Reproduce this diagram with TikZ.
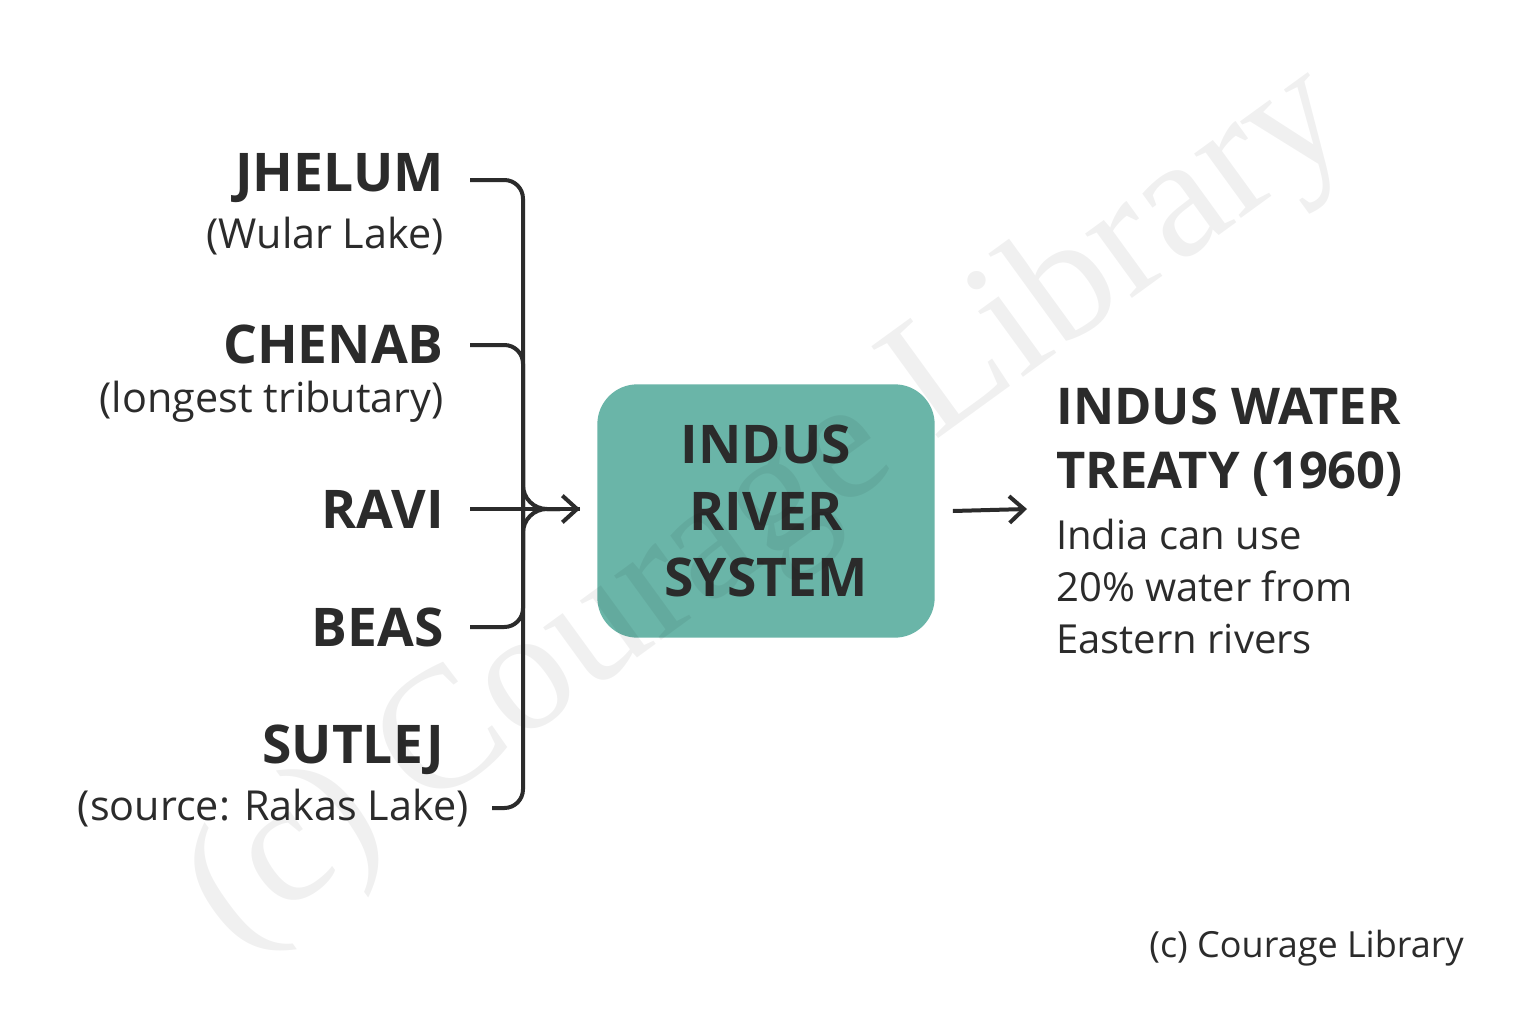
\documentclass[tikz,border=0pt]{standalone}
\usepackage{fontspec}
\setmainfont{Open Sans}
\newfontfamily\markfont{Liberation Serif}
\usetikzlibrary{arrows.meta}
\definecolor{ink}{HTML}{2B2B2B}
\definecolor{teal}{HTML}{6AB5A8}
\tikzset{
  river/.style={anchor=east, inner sep=0.75pt, font=\fontsize{40}{44}\selectfont\bfseries, text=ink},
  source/.style={anchor=east, inner sep=0.75pt, font=\fontsize{31}{36}\selectfont, text=ink},
  link/.style={draw=ink, line width=3pt, rounded corners=14pt},
  tip/.style={-{Straight Barb[length=11pt,width=20pt,line width=3pt]}}
}
\begin{document}
\begin{tikzpicture}[x=0.75pt,y=0.75pt,yscale=-1,xscale=1]
\useasboundingbox (0,0) rectangle (1536,1024);
\fill[white] (0,0) rectangle (1536,1024);

% rivers
\node[river] (jhelum) at (445,178) {JHELUM};
\node[source] (wular) at (445,236) {(Wular Lake)};
\node[river] (chenab) at (445,344) {CHENAB};
\node[source] (chenabnote) at (445,402) {(longest tributary)};
\node[river] (ravi) at (445,509) {RAVI};
\node[river] (beas) at (445,627) {BEAS};
\node[river] (sutlej) at (445,750) {SUTLEJ};
\node[source] (rakas) at (470,808) {(source: Rakas Lake)};

% system box
\node[fill=teal, rounded corners=30pt, minimum width=253pt, minimum height=190pt, align=center,
  font=\fontsize{40}{50}\selectfont\bfseries, text=ink] (indus) at (766,511) {INDUS\\RIVER\\SYSTEM};

% treaty
\node[anchor=north west, inner sep=0.75pt, align=left, font=\fontsize{38}{48}\selectfont\bfseries, text=ink] (treaty) at (1055,387) {INDUS WATER\\TREATY (1960)};
\node[anchor=north west, inner sep=0.75pt, align=left, font=\fontsize{30}{39}\selectfont, text=ink] (treatynote) at (1055,518) {India can use\\20\% water from\\Eastern rivers};

\node[anchor=east, inner sep=0.75pt, font=\fontsize{27}{30}\selectfont, text=ink] (credit) at (1465,948) {(c) Courage Library};

% watermark
\node[rotate=36, text=black, opacity=0.06, font=\markfont\fontsize{130}{130}\selectfont] (mark) at (770,510) {(c) Courage Library};

% bracket
\coordinate (join) at (523,509);
\draw[link] (470,180) -- (523,180) -- (join);
\draw[link] (470,345) -- (523,345) -- (join);
\draw[link] (470,627) -- (523,627) -- (join);
\draw[link] (492,808) -- (523,808) -- (join);
\draw[link, rounded corners=0pt] (470,509) -- (580,509);
\draw[link, tip, rounded corners=0pt] (523,509) -- (580,509);
\draw[link, rounded corners=18pt] (523,460) -- (523,509) -- (560,509);
\draw[link, rounded corners=18pt] (523,560) -- (523,509) -- (560,509);

% to treaty
\draw[link, tip] (indus.east) ++(18,0) -- (1027,509);
\end{tikzpicture}
\end{document}
